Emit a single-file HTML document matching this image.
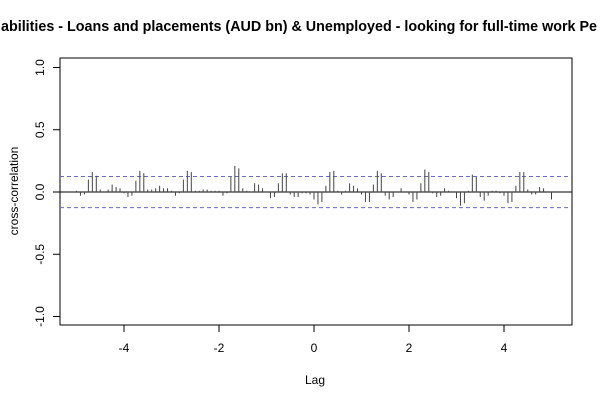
<!DOCTYPE html>
<html><head><meta charset="utf-8"><style>
body{margin:0;background:#fff}
svg{display:block;font-family:"Liberation Sans",Arial,sans-serif}
</style></head><body>
<svg id="chart" width="600" height="400">
<text x="1" y="31" font-size="14.4" font-weight="bold" textLength="596" lengthAdjust="spacingAndGlyphs">abilities - Loans and placements (AUD bn) &amp; Unemployed - looking for full-time work Pe</text>
<rect x="60" y="58" width="512" height="267" fill="none" stroke="#000"/>
<text x="315" y="384" font-size="12" text-anchor="middle">Lag</text>
<text transform="translate(18,191) rotate(-90)" font-size="12" text-anchor="middle">cross-correlation</text>
<g id="axes"></g>
<g id="marks"></g>
</svg>
<script>
const lagStart = -5;
const lagStep = 1/12;
const ccfValues = [
0.01,-0.03,-0.02,0.10,0.16,0.13,0.02,0.00,0.02,0.06,0.04,0.03,-0.01,-0.04,-0.03,0.09,0.17,0.15,0.02,0.02,0.03,0.05,0.03,0.03,0.01,-0.03,-0.01,0.10,0.17,0.16,0.01,0.01,0.02,0.02,0.01,0.01,0.01,-0.03,-0.01,
0.12,0.21,0.19,0.03,0.01,0.00,0.07,0.06,0.03,0.00,-0.05,-0.04,0.07,0.15,0.15,-0.02,-0.04,-0.04,-0.01,-0.01,-0.02,-0.06,-0.10,-0.08,0.05,0.16,0.17,0.01,-0.02,0.01,0.07,0.05,0.03,-0.02,-0.08,-0.08,0.06,0.17,0.15,-0.03,-0.06,-0.04,0.00,
0.03,0.00,-0.02,-0.08,-0.06,0.07,0.18,0.16,-0.01,-0.04,-0.03,0.03,0.01,0.00,-0.05,-0.11,-0.09,0.01,0.14,0.12,-0.04,-0.07,-0.03,0.01,0.01,-0.01,-0.03,-0.09,-0.08,0.05,0.16,0.16,0.02,-0.02,-0.02,0.04,0.03,0.00,-0.06
];
const xTicks = [-4,-2,0,2,4];
const yTicks = [-1.0,-0.5,0.0,0.5,1.0];
const yTickLabels = ["-1.0","-0.5","0.0","0.5","1.0"];
const ciLevel = 0.125;

const NS = "http://www.w3.org/2000/svg";
const xs = v => 314 + v*47.5;
const ys = v => 192 - v*124.5;
function mk(tag, attrs, parent){const e=document.createElementNS(NS,tag);for(const k in attrs)e.setAttribute(k,attrs[k]);parent.appendChild(e);return e;}
const axes = document.getElementById('axes');
const marks = document.getElementById('marks');
xTicks.forEach(t=>{
  const l = mk('line',{x1:xs(t),x2:xs(t),y1:325,y2:332,stroke:'#000'},axes);
  
  
  const tx = mk('text',{x:xs(t),y:352,'font-size':12,'text-anchor':'middle'},axes);
  tx.textContent = String(t);
  
  
});
yTicks.forEach((t,i)=>{
  const l = mk('line',{x1:53,x2:60,y1:ys(t),y2:ys(t),stroke:'#000'},axes);
  
  
  const tx = mk('text',{transform:`translate(44,${ys(t)}) rotate(-90)`,'font-size':12,'text-anchor':'middle'},axes);
  tx.textContent = yTickLabels[i];
  
  
});
const zl = mk('line',{x1:60,x2:572,y1:ys(0),y2:ys(0),stroke:'#000'},marks);


[ciLevel,-ciLevel].forEach(c=>{
  const l = mk('line',{x1:60,x2:572,y1:ys(c),y2:ys(c),stroke:'#6a6ac8','stroke-dasharray':'4,3'},marks);
  
  
});
ccfValues.forEach((v,i)=>{
  const x = xs(lagStart + i*lagStep);
  const b = mk('line',{x1:x,x2:x,y1:ys(0),y2:ys(v),stroke:'#444','stroke-width':1},marks);
  
  
});
</script>
</body></html>
